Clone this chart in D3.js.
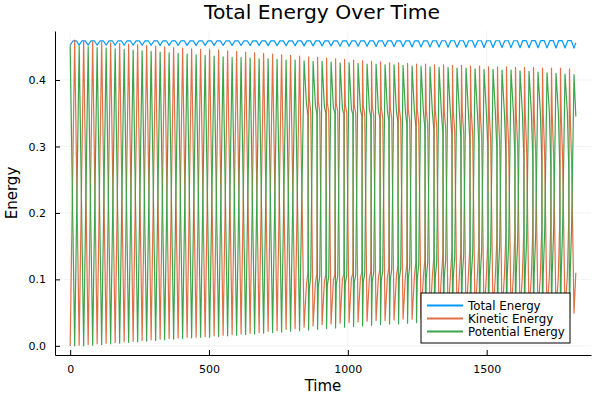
<!DOCTYPE html>
<html>
<head>
<meta charset="utf-8">
<title>Total Energy Over Time</title>
<script src="https://cdn.jsdelivr.net/npm/d3@7"></script>
<style>
  body { margin: 0; background: #fff; }
  text { font-family: "DejaVu Sans", sans-serif; }
</style>
</head>
<body>
<script>
// series names / legend
var seriesNames = ["Total Energy", "Kinetic Energy", "Potential Energy"];
var seriesColors = ["#009af9", "#e26f46", "#3da44d"];

// times of each KE trough (= PE peak)
var troughTime = [0, 32.4, 64.8, 97.2, 129.6, 162, 194.4, 226.8, 259.2, 291.6,
  324, 356.4, 388.8, 421.2, 453.6, 486, 518.4, 550.8, 583.2, 615.6,
  648, 680.4, 712.8, 745.2, 777.6, 810, 842.4, 874.8, 907.2, 939.6,
  972, 1004.4, 1036.8, 1069.2, 1101.6, 1134, 1166.4, 1198.8, 1231.2, 1263.6,
  1296, 1328.4, 1360.8, 1393.2, 1425.6, 1458, 1490.4, 1522.8, 1555.2, 1587.6,
  1620, 1652.4, 1684.8, 1717.2, 1749.6, 1782, 1814.4];
var endTime = 1821;

// kinetic energy: troughs (57) and peaks (56)
var keTrough = [0.000, 0.001, 0.002, 0.003, 0.004, 0.005, 0.006, 0.007, 0.008, 0.009,
  0.010, 0.011, 0.012, 0.013, 0.013, 0.014, 0.015, 0.016, 0.017, 0.018,
  0.019, 0.020, 0.022, 0.023, 0.025, 0.026, 0.028, 0.030, 0.032, 0.033,
  0.034, 0.035, 0.036, 0.037, 0.038, 0.038, 0.039, 0.040, 0.040, 0.041,
  0.041, 0.042, 0.042, 0.043, 0.043, 0.044, 0.044, 0.045, 0.045, 0.046,
  0.046, 0.047, 0.047, 0.048, 0.048, 0.049, 0.049];
var kePeak = [0.460, 0.459, 0.458, 0.457, 0.456, 0.455, 0.454, 0.453, 0.452, 0.451,
  0.450, 0.449, 0.448, 0.447, 0.446, 0.446, 0.445, 0.444, 0.443, 0.442,
  0.441, 0.440, 0.439, 0.438, 0.437, 0.436, 0.435, 0.434, 0.433, 0.432,
  0.431, 0.430, 0.429, 0.428, 0.427, 0.426, 0.426, 0.425, 0.424, 0.424,
  0.423, 0.423, 0.422, 0.422, 0.421, 0.421, 0.420, 0.420, 0.420, 0.419,
  0.419, 0.419, 0.418, 0.418, 0.418, 0.417];
var keEnd = 0.110;

// potential energy: peaks (57) and troughs (56)
var pePeak = [0.452, 0.451, 0.450, 0.449, 0.448, 0.447, 0.446, 0.445, 0.444, 0.443,
  0.442, 0.441, 0.440, 0.439, 0.438, 0.437, 0.436, 0.435, 0.434, 0.434,
  0.433, 0.432, 0.432, 0.431, 0.430, 0.430, 0.429, 0.428, 0.428, 0.427,
  0.426, 0.426, 0.425, 0.424, 0.424, 0.423, 0.423, 0.422, 0.421, 0.421,
  0.420, 0.419, 0.419, 0.418, 0.418, 0.417, 0.416, 0.416, 0.415, 0.415,
  0.414, 0.413, 0.412, 0.411, 0.410, 0.409, 0.408];
var peTrough = [0.000, 0.000, 0.001, 0.002, 0.003, 0.004, 0.005, 0.006, 0.007, 0.008,
  0.009, 0.010, 0.011, 0.012, 0.013, 0.013, 0.014, 0.015, 0.016, 0.017,
  0.018, 0.019, 0.020, 0.021, 0.022, 0.023, 0.024, 0.025, 0.026, 0.027,
  0.028, 0.029, 0.030, 0.031, 0.032, 0.033, 0.033, 0.034, 0.035, 0.035,
  0.036, 0.036, 0.037, 0.037, 0.038, 0.038, 0.039, 0.039, 0.040, 0.040,
  0.041, 0.041, 0.041, 0.042, 0.042, 0.042];
var peEnd = 0.345;

// shoulders that show up from cycle 26 on: [start level, end level]
var kinkFrom = 26;
var keRiseKink = [[0.092, 0.110], [0.095, 0.108], [0.097, 0.107], [0.099, 0.107], [0.100, 0.108],
  [0.101, 0.109], [0.102, 0.111], [0.102, 0.113], [0.103, 0.115], [0.103, 0.118],
  [0.104, 0.120], [0.104, 0.123], [0.104, 0.126], [0.104, 0.129], [0.105, 0.132],
  [0.105, 0.136], [0.105, 0.140], [0.105, 0.144], [0.105, 0.148], [0.105, 0.152],
  [0.105, 0.156], [0.105, 0.160], [0.105, 0.164], [0.105, 0.168], [0.105, 0.172],
  [0.105, 0.176], [0.105, 0.180], [0.105, 0.184], [0.105, 0.188], [0.105, 0.192]];
var keFallKink = [[0.372, 0.352], [0.368, 0.352], [0.366, 0.352], [0.364, 0.352], [0.363, 0.351],
  [0.362, 0.350], [0.361, 0.348], [0.360, 0.346], [0.359, 0.344], [0.358, 0.342],
  [0.357, 0.340], [0.356, 0.338], [0.356, 0.335], [0.355, 0.332], [0.355, 0.330],
  [0.354, 0.327], [0.354, 0.324], [0.353, 0.320], [0.353, 0.317], [0.352, 0.313],
  [0.352, 0.310], [0.351, 0.306], [0.351, 0.302], [0.350, 0.298], [0.350, 0.294],
  [0.349, 0.290], [0.349, 0.286], [0.348, 0.282], [0.348, 0.278], [0.347, 0.274]];
var peFallKink = [[0.365, 0.347], [0.362, 0.349], [0.360, 0.350], [0.358, 0.350], [0.357, 0.349],
  [0.356, 0.348], [0.355, 0.346], [0.355, 0.344], [0.354, 0.342], [0.354, 0.339],
  [0.353, 0.337], [0.353, 0.334], [0.353, 0.331], [0.353, 0.328], [0.352, 0.325],
  [0.352, 0.321], [0.352, 0.317], [0.352, 0.313], [0.352, 0.309], [0.352, 0.305],
  [0.352, 0.301], [0.352, 0.297], [0.352, 0.293], [0.352, 0.289], [0.352, 0.285],
  [0.352, 0.281], [0.352, 0.277], [0.352, 0.273], [0.352, 0.269], [0.352, 0.265]];
var peRiseKink = [[0.085, 0.105], [0.089, 0.105], [0.091, 0.105], [0.093, 0.105], [0.094, 0.106],
  [0.095, 0.107], [0.096, 0.109], [0.097, 0.111], [0.098, 0.113], [0.099, 0.115],
  [0.100, 0.117], [0.101, 0.119], [0.101, 0.122], [0.102, 0.125], [0.102, 0.127],
  [0.103, 0.130], [0.103, 0.133], [0.104, 0.137], [0.104, 0.140], [0.105, 0.144],
  [0.105, 0.147], [0.106, 0.151], [0.106, 0.155], [0.107, 0.159], [0.107, 0.163],
  [0.108, 0.167], [0.108, 0.171], [0.109, 0.175], [0.109, 0.179], [0.110, 0.183]];

// total energy: dips at each trough time (57), tops in between (56)
var totalDip = [0.4525, 0.4525, 0.4525, 0.4524, 0.4524, 0.4524, 0.4523, 0.4523, 0.4523, 0.4523,
  0.4522, 0.4522, 0.4522, 0.4522, 0.4521, 0.4521, 0.4521, 0.4520, 0.4520, 0.4520,
  0.4520, 0.4519, 0.4518, 0.4517, 0.4516, 0.4515, 0.4514, 0.4513, 0.4512, 0.4511,
  0.4510, 0.4509, 0.4508, 0.4507, 0.4506, 0.4505, 0.4503, 0.4500, 0.4499, 0.4498,
  0.4497, 0.4496, 0.4495, 0.4494, 0.4493, 0.4492, 0.4491, 0.4490, 0.4489, 0.4488,
  0.4487, 0.4486, 0.4485, 0.4484, 0.4483, 0.4482, 0.4480];
var totalTop = [0.4588, 0.4588, 0.4588, 0.4588, 0.4588, 0.4588, 0.4588, 0.4588, 0.4588, 0.4588,
  0.4588, 0.4588, 0.4588, 0.4588, 0.4588, 0.4588, 0.4588, 0.4588, 0.4588, 0.4588,
  0.4589, 0.4589, 0.4589, 0.4589, 0.4589, 0.4589, 0.4589, 0.4589, 0.4589, 0.4589,
  0.4590, 0.4590, 0.4590, 0.4590, 0.4590, 0.4590, 0.4590, 0.4590, 0.4590, 0.4590,
  0.4591, 0.4591, 0.4591, 0.4591, 0.4591, 0.4591, 0.4591, 0.4591, 0.4591, 0.4591,
  0.4592, 0.4592, 0.4592, 0.4592, 0.4592, 0.4592];
var totalEnd = 0.4560;

var xTicks = [0, 500, 1000, 1500];
var yTicks = [0.0, 0.1, 0.2, 0.3, 0.4];

// build point lists
function buildKinetic() {
  var pts = [];
  for (var k = 0; k < troughTime.length; k++) {
    var t0 = troughTime[k];
    pts.push([t0, keTrough[k]]);
    if (k < kePeak.length) {
      var dt = troughTime[k + 1] - t0, j = k - kinkFrom;
      if (j >= 0) {
        pts.push([t0 + 0.26 * dt, keRiseKink[j][0]]);
        pts.push([t0 + 0.42 * dt, keRiseKink[j][1]]);
      }
      pts.push([t0 + 0.5 * dt, kePeak[k]]);
      if (j >= 0) {
        pts.push([t0 + 0.58 * dt, keFallKink[j][0]]);
        pts.push([t0 + 0.74 * dt, keFallKink[j][1]]);
      }
    }
  }
  pts.push([endTime, keEnd]);
  return pts;
}
function buildPotential() {
  var pts = [];
  for (var k = 0; k < troughTime.length; k++) {
    var t0 = troughTime[k];
    pts.push([t0, pePeak[k]]);
    if (k < peTrough.length) {
      var dt = troughTime[k + 1] - t0, j = k - kinkFrom;
      if (j >= 0) {
        pts.push([t0 + 0.26 * dt, peFallKink[j][0]]);
        pts.push([t0 + 0.42 * dt, peFallKink[j][1]]);
      }
      pts.push([t0 + 0.5 * dt, peTrough[k]]);
      if (j >= 0) {
        pts.push([t0 + 0.58 * dt, peRiseKink[j][0]]);
        pts.push([t0 + 0.74 * dt, peRiseKink[j][1]]);
      }
    }
  }
  pts.push([endTime, peEnd]);
  return pts;
}
function buildTotal() {
  var pts = [];
  for (var k = 0; k < troughTime.length; k++) {
    var t0 = troughTime[k];
    pts.push([t0, totalDip[k]]);
    if (k < totalTop.length) {
      var dt = troughTime[k + 1] - t0;
      pts.push([t0 + 0.3 * dt, totalTop[k]]);
      pts.push([t0 + 0.7 * dt, totalTop[k]]);
    }
  }
  pts.push([endTime, totalEnd]);
  return pts;
}

var series = [buildTotal(), buildKinetic(), buildPotential()];

var W = 600, H = 400;
var margin = {left: 55, right: 9, top: 31, bottom: 45};
var pw = W - margin.left - margin.right, ph = H - margin.top - margin.bottom;

var svg = d3.select("body").append("svg")
  .attr("width", W).attr("height", H);

var allX = [0, endTime];
var allY = d3.merge(series).map(function(d) { return d[1]; });
var xMin = d3.min(allX), xMax = d3.max(allX), xPad = 0.03 * (xMax - xMin);
var yMin = d3.min(allY), yMax = d3.max(allY), yPad = 0.03 * (yMax - yMin);

var x = d3.scaleLinear().domain([xMin - xPad, xMax + xPad]).range([0, pw]);
var y = d3.scaleLinear().domain([yMin - yPad, yMax + yPad]).range([ph, 0]);

var g = svg.append("g").attr("transform", "translate(" + margin.left + "," + margin.top + ")");

// grid
g.append("g").selectAll("line").data(xTicks).enter().append("line")
  .attr("x1", function(d) { return x(d); }).attr("x2", function(d) { return x(d); })
  .attr("y1", 0).attr("y2", ph)
  .attr("stroke", "#000").attr("stroke-opacity", 0.1).attr("stroke-width", 0.5);
g.append("g").selectAll("line").data(yTicks).enter().append("line")
  .attr("y1", function(d) { return y(d); }).attr("y2", function(d) { return y(d); })
  .attr("x1", 0).attr("x2", pw)
  .attr("stroke", "#000").attr("stroke-opacity", 0.1).attr("stroke-width", 0.5);

svg.append("clipPath").attr("id", "clip").append("rect")
  .attr("width", pw).attr("height", ph);

var line = d3.line()
  .x(function(d) { return x(d[0]); })
  .y(function(d) { return y(d[1]); });

var plot = g.append("g").attr("clip-path", "url(#clip)");
plot.selectAll("path").data(series).enter().append("path")
  .attr("d", line)
  .attr("fill", "none")
  .attr("stroke", function(d, i) { return seriesColors[i]; })
  .attr("stroke-width", 1.2)
  .attr("stroke-linejoin", "round");

// axes
var xAxis = d3.axisBottom(x).tickValues(xTicks).tickFormat(d3.format("d"))
  .tickSizeInner(-5).tickSizeOuter(0).tickPadding(10);
var yAxis = d3.axisLeft(y).tickValues(yTicks).tickFormat(d3.format(".1f"))
  .tickSizeInner(-5).tickSizeOuter(0).tickPadding(9);

var gx = g.append("g").attr("transform", "translate(0," + ph + ")").call(xAxis);
var gy = g.append("g").call(yAxis);
[gx, gy].forEach(function(a) {
  a.select(".domain").attr("stroke", "#000").attr("stroke-width", 1);
  a.selectAll(".tick line").attr("stroke", "#000");
  a.selectAll(".tick text").attr("font-size", 11).attr("fill", "#000")
    .attr("font-family", "DejaVu Sans, sans-serif");
});

// titles
svg.append("text").attr("x", margin.left + pw / 2 - 1).attr("y", 19)
  .attr("text-anchor", "middle").attr("font-size", 20.3).text("Total Energy Over Time");
svg.append("text").attr("x", margin.left + pw / 2).attr("y", 391)
  .attr("text-anchor", "middle").attr("font-size", 15).text("Time");
svg.append("text").attr("transform", "translate(17," + (margin.top + ph / 2) + ") rotate(-90)")
  .attr("text-anchor", "middle").attr("font-size", 15).text("Energy");

// legend
var lg = svg.append("g").attr("transform", "translate(421,293)");
lg.append("rect").attr("width", 149).attr("height", 50)
  .attr("fill", "#fff").attr("stroke", "#000").attr("stroke-width", 1);
seriesNames.forEach(function(name, i) {
  var yy = 12.5 + i * 13;
  lg.append("line").attr("x1", 6).attr("x2", 42).attr("y1", yy).attr("y2", yy)
    .attr("stroke", seriesColors[i]).attr("stroke-width", 1.8);
  lg.append("text").attr("x", 47).attr("y", yy + 4.2).attr("font-size", 11.8).text(name);
});
</script>
</body>
</html>
